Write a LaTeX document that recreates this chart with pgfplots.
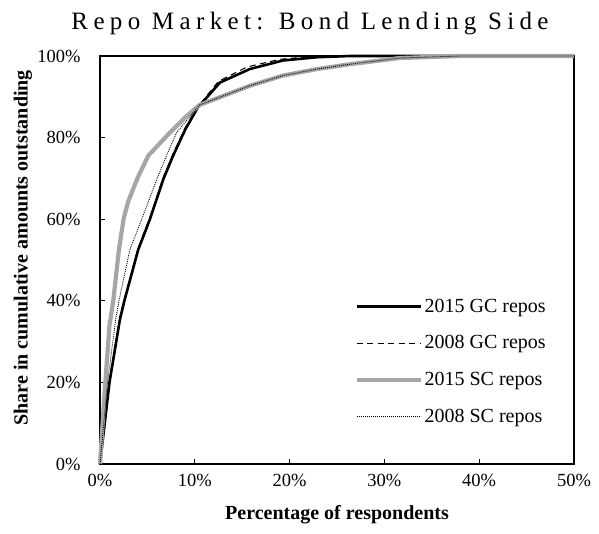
\documentclass[border=0pt]{standalone}
\usepackage{fontspec}
\setmainfont{Liberation Serif}
\newfontfamily\titlefont[LetterSpace=21.5]{Liberation Serif}
\usepackage{pgfplots}
\pgfplotsset{compat=1.18}
\definecolor{scgray}{RGB}{166,166,166}
\begin{document}
\begin{tikzpicture}[x=1pt,y=1pt]
\useasboundingbox (0,0) rectangle (599,533);
\node[font=\titlefont\fontsize{25}{30}\selectfont, anchor=base] at (310,503) {Repo Market: Bond Lending Side};
\begin{axis}[
  at={(100pt,69pt)}, anchor=south west,
  scale only axis, width=474pt, height=408pt,
  xmin=0, xmax=50, ymin=0, ymax=100,
  clip=false,
  axis line style={line width=1.1pt},
  xtick={0,10,20,30,40,50},
  xticklabels={0\%,10\%,20\%,30\%,40\%,50\%},
  ytick={0,20,40,60,80,100},
  yticklabels={0\%,20\%,40\%,60\%,80\%,100\%},
  xtick pos=bottom, ytick pos=left,
  tick align=inside, major tick length=5pt,
  tick style={line width=1pt, black},
  ticklabel style={font=\fontsize{18.5}{22}\selectfont},
  xticklabel style={yshift=-7pt},
  yticklabel style={xshift=-16pt},
  xlabel={\textbf{Percentage of respondents}},
  ylabel={\textbf{Share in cumulative amounts outstanding}},
  label style={font=\fontsize{20}{24}\selectfont},
  xlabel style={at={(axis description cs:0.5,0)}, anchor=center, yshift=-51pt},
  ylabel style={at={(axis description cs:0,0.53)}, anchor=center, yshift=77pt},
  legend cell align=left,
  legend style={draw=none, fill=none, at={(0.53,0.415)}, anchor=north west,
    font=\fontsize{20}{24}\selectfont, row sep=18pt},
  legend image code/.code={\draw[#1] (0pt,0pt) -- (64pt,0pt);},
]
\addplot[black, line width=2.6pt] coordinates {
(0,0) (1,20) (2.1,35.4) (2.57,40) (4.04,52.6) (5.27,60) (6.68,69.8) (7.7,75.5)
(9,82) (10.3,87.3) (12.66,93.5) (15.8,96.8) (19.3,98.9) (22.9,99.7) (26.4,100) (50,100)};
\addlegendentry{2015 GC repos}
\addplot[black, line width=1.1pt, dash pattern=on 6pt off 4.5pt] coordinates {
(0,0) (1,20.5) (2.1,36) (2.57,40.5) (4.04,53) (5.27,60.5) (6.68,70.3) (7.7,76)
(9,82.5) (10.3,87.5) (12.5,93.8) (15.5,97.3) (19,99.2) (22,99.8) (25,100) (50,100)};
\addlegendentry{2008 GC repos}
\addplot[scgray, line width=4.2pt] coordinates {
(0,0) (0.5,18) (1,34) (1.4,40) (2,52.6) (2.5,60.2) (3,64.5) (4,70.3) (5.1,75.6)
(7,80.3) (9,85) (10.5,88) (12.3,89.6) (15.8,92.7) (19.3,95.2) (22.9,96.8)
(26.4,98) (31.6,99.5) (38,100) (50,100)};
\addlegendentry{2015 SC repos}
\addplot[black, line width=0.9pt, dash pattern=on 0.9pt off 1.1pt] coordinates {
(0,0) (0.8,20) (1.65,35.4) (2,40) (3.16,52.6) (4.4,60) (6,69.8) (7,75.5)
(8.1,81.3) (10.5,88) (12.3,89.6) (15.8,92.7) (19.3,95.2) (22.9,96.8)
(26.4,98) (31.6,99.5) (38,100) (50,100)};
\addlegendentry{2008 SC repos}
\end{axis}
\end{tikzpicture}
\end{document}
